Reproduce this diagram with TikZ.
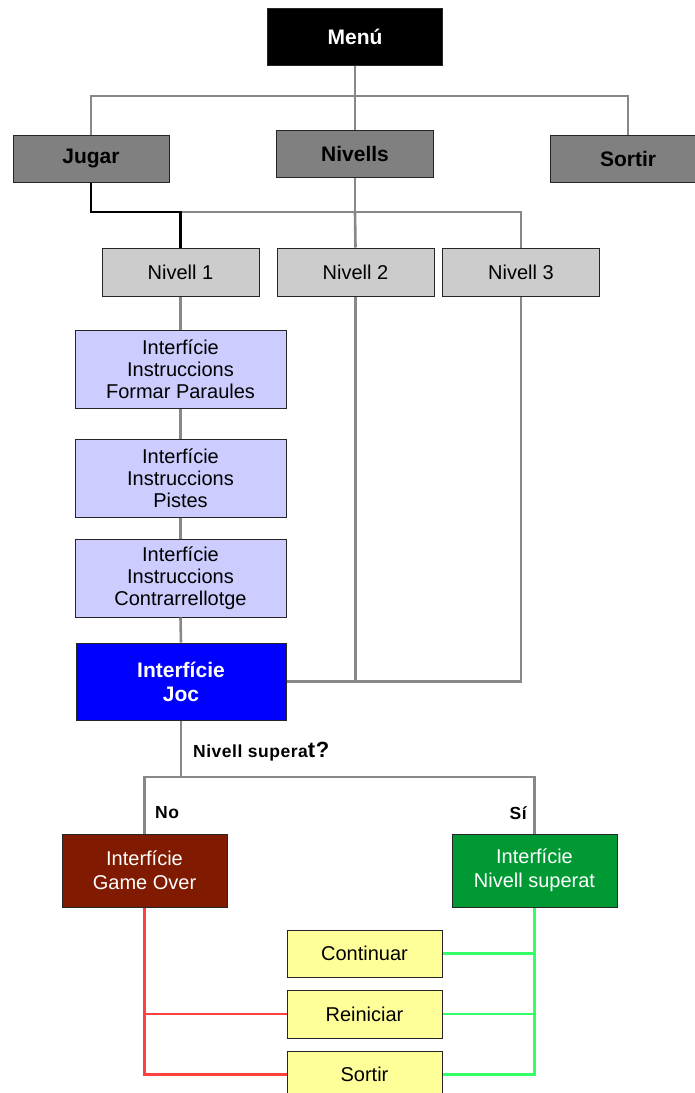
\documentclass[tikz,border=0pt]{standalone}
\usepackage{fontspec}
\setmainfont{Liberation Sans}
\usetikzlibrary{positioning,calc}
\definecolor{boxgray}{RGB}{128,128,128}
\definecolor{levelgray}{RGB}{204,204,204}
\definecolor{instrblue}{RGB}{204,204,255}
\definecolor{jocblue}{RGB}{0,0,255}
\definecolor{overred}{RGB}{128,26,0}
\definecolor{passgreen}{RGB}{0,153,51}
\definecolor{optyellow}{RGB}{255,255,153}
\definecolor{linkgray}{RGB}{136,136,136}
\definecolor{linkred}{RGB}{255,64,64}
\definecolor{linkgreen}{RGB}{51,255,102}

\begin{document}
\begin{tikzpicture}[
    x=1pt, y=-1pt,
    box/.style={rectangle, draw=black!85, line width=1pt, inner sep=0pt, align=center, font=\fontsize{20}{22}\selectfont},
    menubox/.style={box, fill=black, text=white, minimum width=175, minimum height=57, font=\fontsize{21}{24}\selectfont\bfseries},
    mainbox/.style={box, fill=boxgray, minimum width=156, minimum height=47, font=\fontsize{21}{24}\selectfont\bfseries},
    levelbox/.style={box, fill=levelgray, minimum width=157, minimum height=48},
    instrbox/.style={box, fill=instrblue, minimum width=211, minimum height=78},
    jocbox/.style={box, fill=jocblue, text=white, minimum width=210, minimum height=77, font=\fontsize{21}{24}\selectfont\bfseries},
    endbox/.style={box, text=white, minimum width=165, minimum height=73, font=\fontsize{20}{24}\selectfont},
    optbox/.style={box, fill=optyellow, minimum width=155, minimum height=47},
    link/.style={line width=2.6pt, linkgray},
    jugarlink/.style={line width=2.6pt, black},
    redlink/.style={line width=2.6pt, linkred},
    greenlink/.style={line width=2.6pt, linkgreen},
    cond/.style={font=\fontsize{17.5}{20}\selectfont\bfseries\addfontfeature{LetterSpace=3}, inner sep=0pt}
]
\useasboundingbox (0,0) rectangle (694,1093);

% Top level
\node[menubox] (menu) at (355,36.5) {Menú};
\node[mainbox] (jugar) at (91,158.5) {Jugar};
\node[mainbox, minimum width=157] (nivells) at (355,153.5) {Nivells};
\node[mainbox] (sortir) at (628,158.5) {Sortir};
\coordinate (menubar) at (355,96);

% Levels
\node[levelbox] (niv1) at (180.5,272) {Nivell 1};
\node[levelbox] (niv2) at (355.5,272) {Nivell 2};
\node[levelbox] (niv3) at (521,272) {Nivell 3};
\coordinate (levelbar) at (180.5,212);

% Instructions
\node[instrbox] (instr1) at (180.5,369) {Interfície\\Instruccions\\Formar Paraules};
\node[instrbox] (instr2) at (180.5,478) {Interfície\\Instruccions\\Pistes};
\node[instrbox] (instr3) at (180.5,578) {Interfície\\Instruccions\\Contrarrellotge};
\node[jocbox] (joc) at (181,681.5) {Interfície\\Joc};

% Result
\node[endbox, fill=overred] (gameover) at (144.5,870.5) {Interfície\\Game Over};
\node[endbox, fill=passgreen] (superat) at (534.5,870.5) {Interfície\\Nivell superat};
\coordinate (resultbar) at (181,777);
\node[cond, anchor=west] (question) at (193,752) {Nivell supera{\fontsize{22}{22}\selectfont t?}};
\node[cond, anchor=west] (no) at (155,813) {No};
\node[cond, anchor=east] (si) at (527,813) {Sí};

% Options
\node[optbox] (continuar) at (364.5,953.5) {Continuar};
\node[optbox, minimum height=48] (reiniciar) at (364.5,1014) {Reiniciar};
\node[optbox] (sortirb) at (364.5,1074.5) {Sortir};

% Menu links
\draw[link] (menu.south) -- (nivells.north);
\draw[link] (jugar.north) |- (menubar) -| (sortir.north);

% Level links
\draw[link] (nivells.south) -- (nivells.south |- levelbar);
\draw[link] (levelbar) -| (niv3.north);
\draw[link] (nivells.south |- levelbar) -- (niv2.north);
\draw[jugarlink] (jugar.south) |- (levelbar) -- (niv1.north);

% Nivell 1 chain
\draw[link] (niv1.south) -- (instr1.north);
\draw[link] (instr1.south) -- (instr2.north);
\draw[link] (instr2.south) -- (instr3.north);
\draw[link] (instr3.south) -- (joc.north);
\draw[link] (niv2.south) |- (joc.east);
\draw[link] (niv3.south) |- (joc.east);

% Decision
\draw[link] (joc.south) -- (resultbar);
\draw[link] (gameover.north) |- (resultbar) -| (superat.north);

% Game over options
\draw[redlink] (gameover.south) |- (sortirb.west);
\draw[redlink] (gameover.south |- reiniciar.west) -- (reiniciar.west);

% Passed options
\draw[greenlink] (superat.south) |- (sortirb.east);
\draw[greenlink] (superat.south |- continuar.east) -- (continuar.east);
\draw[greenlink] (superat.south |- reiniciar.east) -- (reiniciar.east);

\end{tikzpicture}
\end{document}
